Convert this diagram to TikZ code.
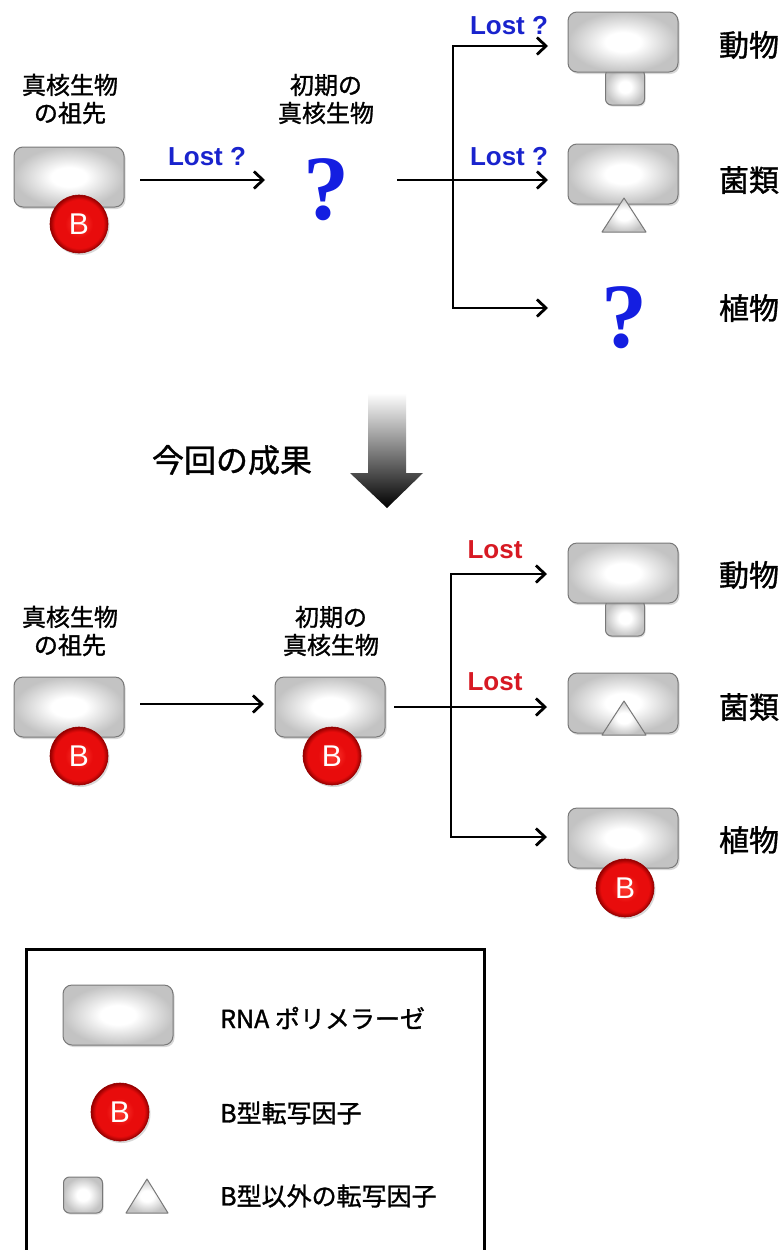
\documentclass[tikz,border=0pt]{standalone}
\usepackage{fontspec}
\newfontfamily\jp[BoldFont={Noto Sans CJK JP}, BoldFeatures={FakeBold=1.2}]{Noto Sans CJK JP}
\newfontfamily\lsans{Liberation Sans}
\newfontfamily\lserif{Liberation Serif}
\usetikzlibrary{arrows.meta,shadows,calc}

\definecolor{lostblue}{RGB}{25,35,205}
\definecolor{lostred}{RGB}{215,25,35}
\definecolor{qblue}{RGB}{20,30,225}
\definecolor{polgray}{RGB}{195,195,195}
\definecolor{poledge}{RGB}{120,120,120}
\definecolor{ballhi}{RGB}{255,60,50}
\definecolor{ballmid}{RGB}{232,12,12}
\definecolor{balldark}{RGB}{150,0,0}

\pgfdeclareradialshading{polshade}{\pgfpoint{0bp}{0bp}}{color(0bp)=(white); color(8bp)=(white); color(25bp)=(polgray); color(50bp)=(polgray)}
\pgfdeclareradialshading{ballshade}{\pgfpoint{0bp}{0bp}}{color(0bp)=(ballhi); color(12bp)=(ballmid); color(21bp)=(ballmid); color(25bp)=(balldark); color(50bp)=(balldark)}

\tikzset{
  pol/.style={rectangle, rounded corners=9pt, minimum width=110pt, minimum height=60pt,
    draw=poledge, line width=1pt, shading=polshade,
    drop shadow={opacity=0.3, shadow xshift=1.5pt, shadow yshift=-2pt}},
  tf/.style={circle, minimum size=58pt, inner sep=0pt, draw=balldark, line width=0.6pt,
    shading=ballshade, text=white, font=\lsans\fontsize{30}{30}\selectfont,
    drop shadow={opacity=0.3, shadow xshift=1.5pt, shadow yshift=-2pt}},
  sqf/.style={rectangle, rounded corners=6pt, minimum width=39pt, minimum height=36pt,
    draw=poledge, line width=1pt, shading=polshade,
    drop shadow={opacity=0.25, shadow xshift=1pt, shadow yshift=-1.5pt}},
  trif/.style={draw=poledge, line width=1pt, shading=polshade, line join=round},
  lbl/.style={font=\jp\bfseries\fontsize{24}{28}\selectfont, align=center, inner sep=0pt},
  org/.style={font=\jp\bfseries\fontsize{30}{32}\selectfont, inner sep=0pt},
  lostq/.style={font=\lsans\bfseries\fontsize{26}{26}\selectfont, text=lostblue, inner sep=0pt},
  lostr/.style={font=\lsans\bfseries\fontsize{26}{26}\selectfont, text=lostred, inner sep=0pt},
  qm/.style={font=\lserif\bfseries\fontsize{92}{92}\selectfont, text=qblue, inner sep=0pt},
  arr/.style={-{Straight Barb[length=9pt,width=17pt,line width=2.8pt]}, line width=2.8pt},
  ln/.style={line width=2.8pt},
  leg/.style={font=\jp\bfseries\fontsize{25}{28}\selectfont, anchor=west, inner sep=0pt},
}

\begin{document}
\begin{tikzpicture}[x=1pt, y=-1pt]
\useasboundingbox (0,0) rectangle (784,1250);
\fill[white] (0,0) rectangle (784,1250);
\clip (0,0) rectangle (784,1250);

% ================= TOP =================
\node[lbl] (tla) at (70,99) {真核生物\\の祖先};
\node[lbl] (tle) at (326,99) {初期の\\真核生物};

\node[pol] (tboxA) at (69,177) {};
\node[tf] (tbA) at (79,224) {B};

\coordinate (t1s) at (140,180);
\coordinate (t1e) at (265,180);
\draw[arr] (t1s) -- (t1e);
\node[lostq] (tlost0) at (207,157) {Lost ?};

\node[qm] (tqE) at (326,190) {?};

\coordinate (tbs) at (397,180);
\coordinate (tj) at (453,180);
\coordinate (ta1) at (548,46);
\coordinate (ta2) at (548,180);
\coordinate (ta3) at (548,308);
\draw[ln] (tbs) -- (tj);
\draw[arr] (tj) -- (ta2);
\draw[arr, line join=miter] (tj) |- (ta1);
\draw[arr, line join=miter] (tj) |- (ta3);
\node[lostq] (tlost1) at (509,26) {Lost ?};
\node[lostq] (tlost2) at (509,157) {Lost ?};

% animal
\node[sqf] (tsqAn) at (625,87) {};
\node[pol] (tboxAn) at (623,42) {};
\node[org] (tAn) at (749,45) {動物};
% fungi
\node[pol] (tboxFu) at (623,174) {};
\coordinate (ttri) at (624,215);
\path[trif] ($(ttri)+(-22,17)$) -- ($(ttri)+(0,-17)$) -- ($(ttri)+(22,17)$) -- cycle;
\node[org] (tFu) at (749,180) {菌類};
% plant
\node[qm] (tqP) at (624,318) {?};
\node[org] (tPl) at (749,308) {植物};

% ================= MIDDLE =================
\node[font=\jp\bfseries\fontsize{32}{34}\selectfont, inner sep=0pt] (result) at (232,460) {今回の成果};
\shade[top color=white, bottom color=black]
  (368,393) -- (406,393) -- (406,473) -- (423,473) -- (387,508) -- (350,473) -- (368,473) -- cycle;

% ================= BOTTOM =================
\node[lbl] (bla) at (70,631) {真核生物\\の祖先};
\node[lbl] (ble) at (331,631) {初期の\\真核生物};

\node[pol] (bboxA) at (69,707) {};
\node[tf] (bbA) at (79,756) {B};
\node[pol] (bboxE) at (330,707) {};
\node[tf] (bbE) at (332,756) {B};

\coordinate (b1s) at (140,704);
\coordinate (b1e) at (264,704);
\draw[arr] (b1s) -- (b1e);

\coordinate (bbs) at (394,707);
\coordinate (bj) at (451,707);
\coordinate (ba1) at (547,574);
\coordinate (ba2) at (547,707);
\coordinate (ba3) at (547,837);
\draw[ln] (bbs) -- (bj);
\draw[arr] (bj) -- (ba2);
\draw[arr, line join=miter] (bj) |- (ba1);
\draw[arr, line join=miter] (bj) |- (ba3);
\node[lostr] (blost1) at (495,550) {Lost};
\node[lostr] (blost2) at (495,682) {Lost};

% animal
\node[sqf] (bsqAn) at (625,618) {};
\node[pol] (bboxAn) at (623,573) {};
\node[org] (bAn) at (749,575) {動物};
% fungi
\node[pol] (bboxFu) at (623,703) {};
\coordinate (btri) at (624,718);
\path[trif] ($(btri)+(-22,17)$) -- ($(btri)+(0,-17)$) -- ($(btri)+(22,17)$) -- cycle;
\node[org] (bFu) at (749,707) {菌類};
% plant
\node[pol] (bboxPl) at (623,838) {};
\node[tf] (bbPl) at (625,888) {B};
\node[org] (bPl) at (749,840) {植物};

% ================= LEGEND =================
\node[draw, line width=3pt, minimum width=458pt, minimum height=340pt, anchor=north west, inner sep=0pt] (legend) at (25,948) {};
\node[pol] (lpol) at (118,1015) {};
\node[leg] (lpolt) at (220,1018) {RNA ポリメラーゼ};
\node[tf] (lb) at (120,1112) {B};
\node[leg] (lbt) at (220,1113) {B型転写因子};
\node[sqf] (lsq) at (83,1195) {};
\coordinate (ltri) at (147,1196);
\path[trif] ($(ltri)+(-21,17)$) -- ($(ltri)+(0,-17)$) -- ($(ltri)+(21,17)$) -- cycle;
\node[leg] (lot) at (220,1196) {B型以外の転写因子};
\end{tikzpicture}
\end{document}
